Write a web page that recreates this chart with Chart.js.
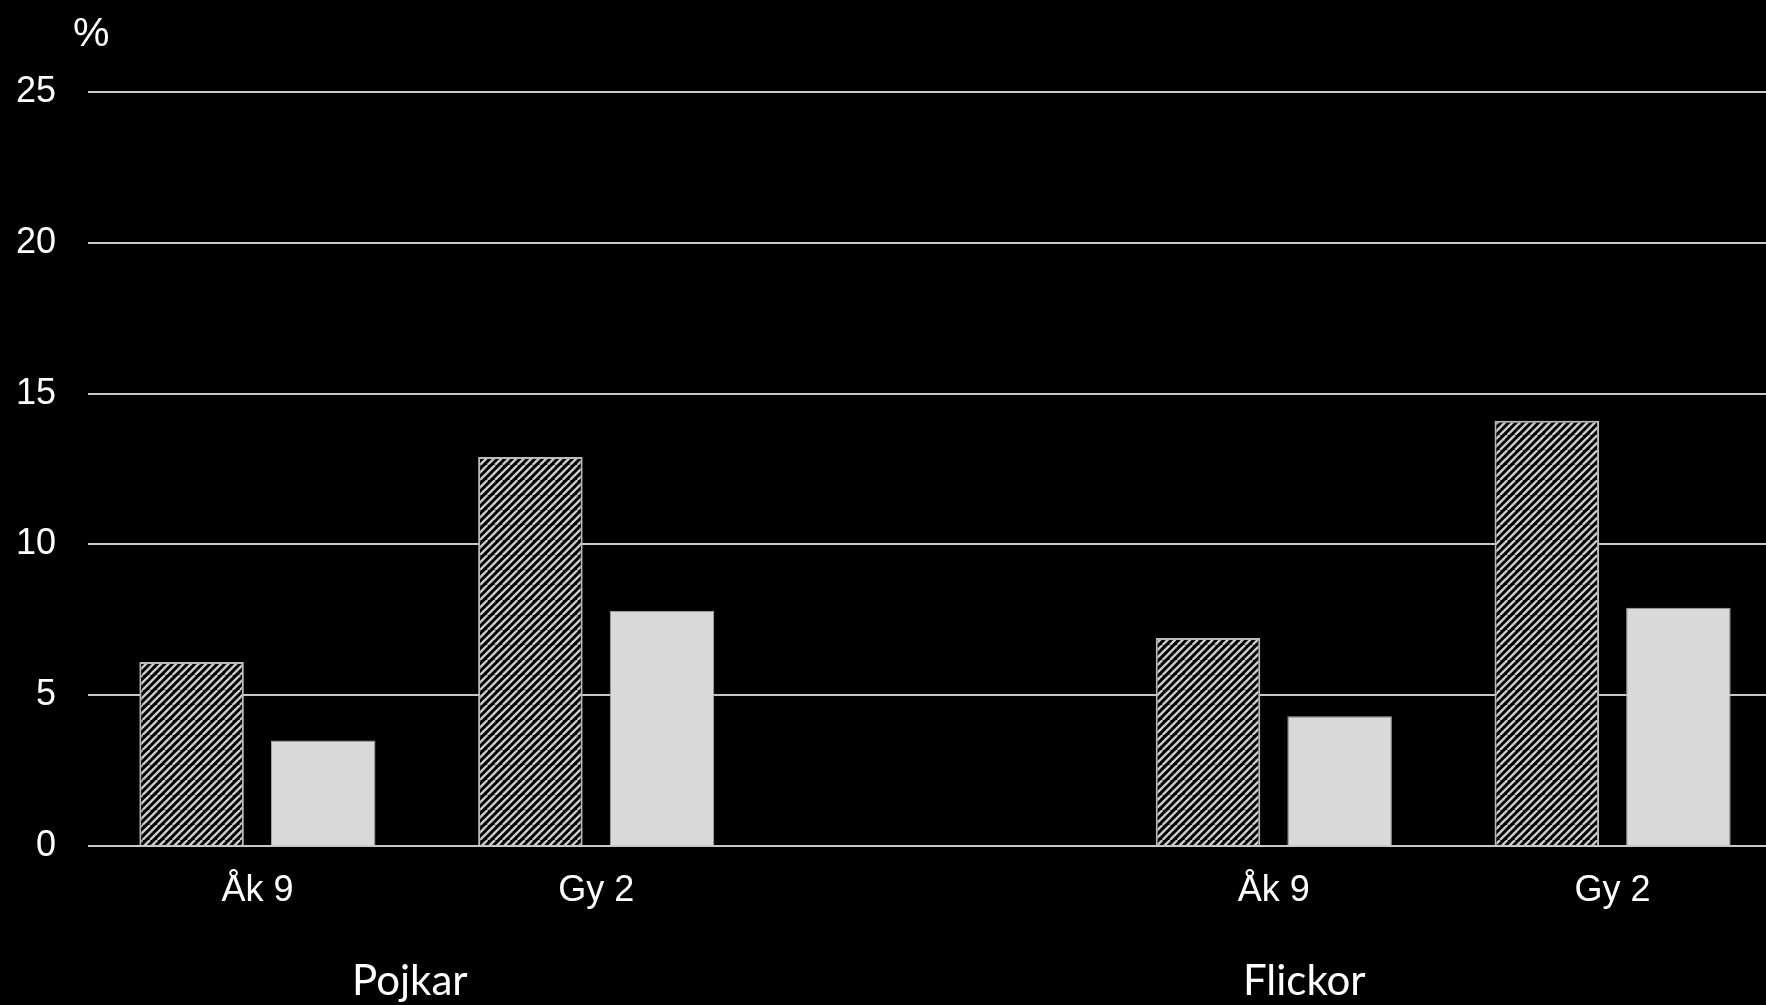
<!DOCTYPE html>
<html>
<head>
<meta charset="utf-8">
<script src="https://cdn.jsdelivr.net/npm/chart.js@4"></script>
<style>
  html, body { margin: 0; padding: 0; background: #000; overflow: hidden; }
  #wrap { width: 1782px; height: 1005px; }
</style>
</head>
<body>
<div id="wrap"><canvas id="chart" width="1782" height="1005"></canvas></div>
<script>
// data
const categories = ['Åk 9', 'Gy 2', '', 'Åk 9', 'Gy 2'];
const groups = ['Pojkar', 'Flickor'];
const hatchedValues = [6.1, 12.9, null, 6.9, 14.1];
const lightValues = [3.5, 7.8, null, 4.3, 7.9];
const yTicks = [0, 5, 10, 15, 20, 25];
const unitLabel = '%';

const ctx = document.getElementById('chart').getContext('2d');

// diagonal "/" hatch like the original
function makeHatch() {
  const s = 15, p = 7.5;
  const c = document.createElement('canvas');
  c.width = c.height = s;
  const g = c.getContext('2d');
  g.fillStyle = '#000';
  g.fillRect(0, 0, s, s);
  g.strokeStyle = '#cfcfcf';
  g.lineWidth = 2.3;
  for (let k = -3; k <= 4; k++) {
    g.beginPath();
    g.moveTo(k * p, s);
    g.lineTo(k * p + s, 0);
    g.stroke();
  }
  return ctx.createPattern(c, 'repeat');
}

const sans = "'Liberation Sans', Arial, sans-serif";

// % label + Pojkar / Flickor under the axis
const extraText = {
  id: 'extraText',
  afterDraw(chart) {
    const x = chart.scales.x;
    const a = chart.chartArea;
    const c = chart.ctx;
    c.save();
    c.fillStyle = '#fff';
    c.font = '41px ' + sans;
    c.textAlign = 'left';
    c.textBaseline = 'alphabetic';
    c.fillText(unitLabel, a.left - 15, 46);

    c.font = "42px Lato, 'Open Sans', sans-serif";
    c.textAlign = 'center';
    const at = [0.45, 3.09]; // spot in category units
    groups.forEach((name, i) => {
      const i0 = Math.floor(at[i]);
      const t = at[i] - i0;
      const px = x.getPixelForValue(i0) * (1 - t) + x.getPixelForValue(i0 + 1) * t;
      c.fillText(name, px, 995);
    });
    c.restore();
  }
};

const data = {
  labels: categories,
  datasets: [{
    label: 'Serie 1',
    data: hatchedValues,
    backgroundColor: makeHatch(),
    borderColor: '#bcbcbc',
    borderWidth: 2,
  }, {
    label: 'Serie 2',
    data: lightValues,
    backgroundColor: '#d9d9d9',
    borderColor: '#a8a8a8',
    borderWidth: 1,
  }]
};

const config = {
  type: 'bar',
  data: data,
  options: {
    responsive: false,
    devicePixelRatio: 1,
    animation: false,
    categoryPercentage: 0.777,
    barPercentage: 0.794,
    layout: { padding: { top: 92, right: 0, bottom: 0, left: 0 } },
    plugins: {
      legend: { display: false },
      tooltip: { enabled: false },
    },
    scales: {
      x: {
        grid: { display: false, drawTicks: false },
        border: { display: false },
        ticks: {
          color: '#fff',
          font: { family: sans, size: 36 },
          padding: 23,
          maxRotation: 0,
          autoSkip: false,
        },
        afterFit(scale) { scale.height = 159; },
      },
      y: {
        min: 0,
        max: 25,
        afterBuildTicks(scale) { scale.ticks = yTicks.map(v => ({ value: v })); },
        grid: { color: '#c8c8c8', lineWidth: 2, drawTicks: false },
        border: { display: false },
        ticks: {
          color: '#fff',
          font: { family: sans, size: 36 },
          padding: 32,
        },
        afterFit(scale) { scale.width = 88; },
      }
    }
  },
  plugins: [extraText]
};

const barChart = new Chart(ctx, config);
</script>
</body>
</html>
